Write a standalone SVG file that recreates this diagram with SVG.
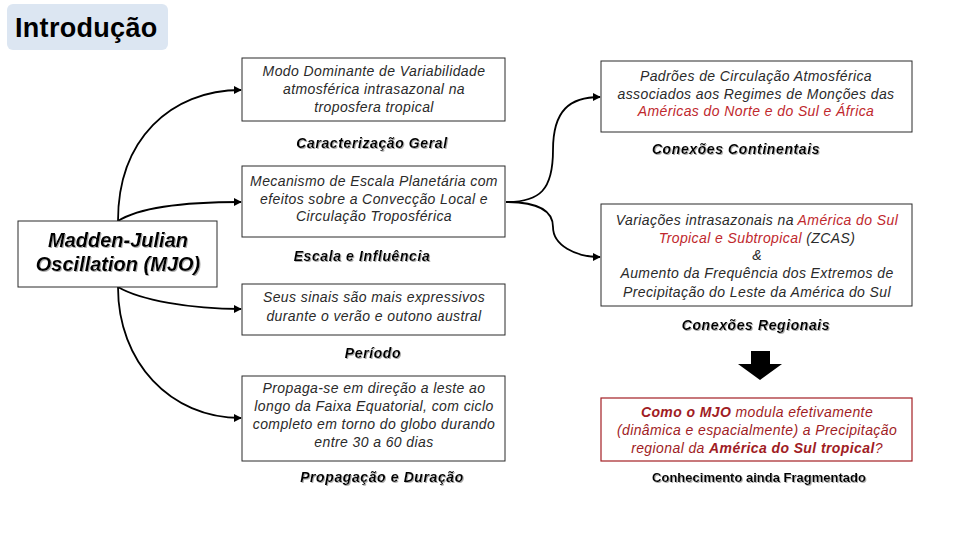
<svg xmlns="http://www.w3.org/2000/svg" width="960" height="540" viewBox="0 0 960 540">
<defs>
<style>
.box{fill:#fff;stroke:#2b2b2b;stroke-width:1}
.rbox{fill:#fff;stroke:#a31f24;stroke-width:1.2}
.t{font-family:"Liberation Sans",Arial,sans-serif;font-size:14px;font-style:italic;fill:#2a2a2a;text-anchor:middle;letter-spacing:0.4px}
.lbl{font-family:"Liberation Sans",Arial,sans-serif;font-size:14px;font-style:italic;font-weight:bold;fill:#000;text-anchor:middle;letter-spacing:0.6px;filter:url(#sh)}
.red{fill:#c0282d}
.dr{fill:#a01c24}
.b{font-weight:bold}
.con{fill:none;stroke:#000;stroke-width:1.8;marker-end:url(#ah)}
</style>
<marker id="ah" viewBox="0 0 10 10" refX="9" refY="5" markerWidth="4.5" markerHeight="4.5" orient="auto" markerUnits="strokeWidth">
<path d="M0,0 L10,5 L0,10 z" fill="#000"/>
</marker>
<filter id="sh" x="-5%" y="-20%" width="110%" height="150%">
<feDropShadow dx="1" dy="1" stdDeviation="0.6" flood-color="#9a9a9a" flood-opacity="0.8"/>
</filter>
</defs>
<rect width="960" height="540" fill="#fff"/>

<g id="title">
<rect x="7" y="4" width="161" height="46" rx="6" fill="#dce6f2"/>
<text x="15" y="37" font-family="'Liberation Sans',Arial,sans-serif" font-size="27" font-weight="bold" fill="#000" letter-spacing="0.3">Introdução</text>
</g>

<g id="connectors">
<path class="con" d="M118,221 C118,140 170,90 241,90"/>
<path class="con" d="M118,221 C140,207 190,202 241,202"/>
<path class="con" d="M118,287 C140,300 190,309 241,309"/>
<path class="con" d="M118,287 C118,362 170,418 241,418"/>
<path class="con" d="M506,202 C540,202 553,190 553,150 C553,110 570,97 600,97"/>
<path class="con" d="M506,202 C540,202 553,212 553,227 C553,245 575,257 600,257"/>
</g>

<g id="mjo">
<rect class="box" x="18" y="221" width="199" height="66"/>
<text x="118" y="247" font-family="'Liberation Sans',Arial,sans-serif" font-size="20" font-style="italic" font-weight="bold" text-anchor="middle" filter="url(#sh)">Madden-Julian</text>
<text x="118" y="271" font-family="'Liberation Sans',Arial,sans-serif" font-size="20" font-style="italic" font-weight="bold" text-anchor="middle" filter="url(#sh)">Oscillation (MJO)</text>
</g>

<g id="caracterizacao">
<rect class="box" x="242" y="58" width="263" height="63"/>
<text class="t" x="374" y="76">Modo Dominante de Variabilidade</text>
<text class="t" x="374" y="94">atmosférica intrasazonal na</text>
<text class="t" x="374" y="112">troposfera tropical</text>
<text class="lbl" x="372" y="148">Caracterização Geral</text>
</g>

<g id="escala">
<rect class="box" x="242" y="166" width="263" height="71"/>
<text class="t" x="374" y="186">Mecanismo de Escala Planetária com</text>
<text class="t" x="374" y="204">efeitos sobre a Convecção Local e</text>
<text class="t" x="374" y="221">Circulação Troposférica</text>
<text class="lbl" x="362" y="261">Escala e Influência</text>
</g>

<g id="periodo">
<rect class="box" x="242" y="284" width="263" height="51"/>
<text class="t" x="374" y="302">Seus sinais são mais expressivos</text>
<text class="t" x="374" y="321">durante o verão e outono austral</text>
<text class="lbl" x="373" y="358">Período</text>
</g>

<g id="propagacao">
<rect class="box" x="242" y="376" width="263" height="85"/>
<text class="t" x="374" y="393">Propaga-se em direção a leste ao</text>
<text class="t" x="374" y="411">longo da Faixa Equatorial, com ciclo</text>
<text class="t" x="374" y="429">completo em torno do globo durando</text>
<text class="t" x="374" y="447">entre 30 a 60 dias</text>
<text class="lbl" x="382" y="482">Propagação e Duração</text>
</g>

<g id="continentais">
<rect class="box" x="601" y="61" width="311" height="71"/>
<text class="t" x="756" y="81">Padrões de Circulação Atmosférica</text>
<text class="t" x="756" y="99">associados aos Regimes de Monções das</text>
<text class="t red" x="756" y="116">Américas do Norte e do Sul e África</text>
<text class="lbl" x="736" y="154">Conexões Continentais</text>
</g>

<g id="regionais">
<rect class="box" x="601" y="204" width="311" height="102"/>
<text class="t" x="757" y="225">Variações intrasazonais na <tspan class="red">América do Sul</tspan></text>
<text class="t" x="757" y="243"><tspan class="red">Tropical e Subtropical</tspan> (ZCAS)</text>
<text class="t" x="757" y="260">&amp;</text>
<text class="t" x="757" y="278">Aumento da Frequência dos Extremos de</text>
<text class="t" x="757" y="297">Precipitação do Leste da América do Sul</text>
<text class="lbl" x="756" y="330">Conexões Regionais</text>
</g>

<g id="seta">
<path d="M751,351 H770 V364 H782 L760,380 L738,364 H751 Z" fill="#000"/>
</g>

<g id="fragmentado">
<rect class="rbox" x="601" y="398" width="311" height="63"/>
<text class="t dr" x="757" y="417"><tspan class="b">Como o MJO</tspan> modula efetivamente</text>
<text class="t dr" x="757" y="435">(dinâmica e espacialmente) a Precipitação</text>
<text class="t dr" x="757" y="453">regional da <tspan class="b">América do Sul tropical</tspan>?</text>
<text x="759" y="482" font-family="'Liberation Sans',Arial,sans-serif" font-size="13" font-weight="bold" text-anchor="middle" filter="url(#sh)">Conhecimento ainda Fragmentado</text>
</g>
</svg>
